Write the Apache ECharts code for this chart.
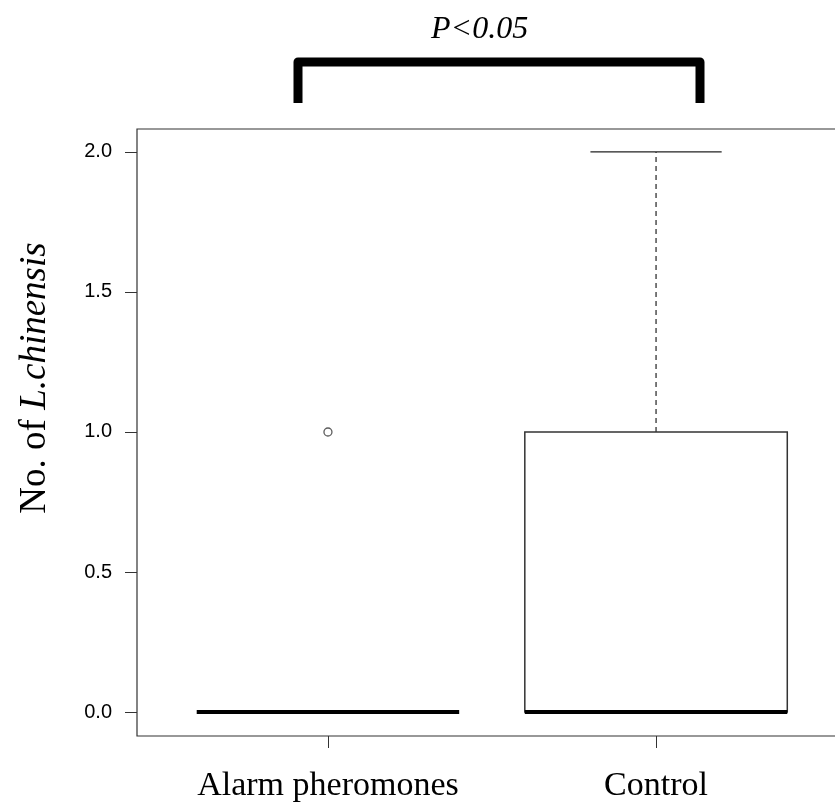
<!DOCTYPE html>
<html>
<head>
<meta charset="utf-8">
<script src="https://cdn.jsdelivr.net/npm/echarts@6/dist/echarts.min.js"></script>
<style>
  html, body { margin: 0; padding: 0; overflow: hidden; background: #fff; }
  #chart { width: 860px; height: 809px; }
</style>
</head>
<body>
<div id="chart"></div>
<script>
// groups, and their box stats: [min, Q1, median, Q3, max]
var groups = ['Alarm pheromones', 'Control'];
var groupPos = [1, 2];
var alarmStats = [0, 0, 0, 0, 0];
var controlStats = [0, 0, 0, 1, 2];
var outliers = [[1, 1]]; // [group position, value]
var yTicks = [0, 0.5, 1, 1.5, 2];

var boxHalf = 0.4;   // R boxwex 0.8
var capHalf = 0.2;   // staplewex 0.5

var chartDom = document.getElementById('chart');
var myChart = echarts.init(chartDom);

var boxData = [
    [groupPos[0]].concat(alarmStats),
    [groupPos[1]].concat(controlStats)
];

function renderBox(params, api) {
    var x = api.value(0);
    var lo = api.coord([x - boxHalf, api.value(1)]);
    var hi = api.coord([x + boxHalf, api.value(5)]);
    var q1 = api.coord([x, api.value(2)]);
    var med = api.coord([x, api.value(3)]);
    var q3 = api.coord([x, api.value(4)]);
    var mid = q1[0];
    var capW = api.size([capHalf, 0])[0];
    var left = lo[0], right = hi[0];
    var kids = [];
    // whiskers (dashed) + caps
    if (api.value(5) > api.value(4)) {
        kids.push({ type: 'line', shape: { x1: mid, y1: q3[1], x2: mid, y2: hi[1] },
            style: { stroke: '#222', lineWidth: 1.2, lineDash: [5, 4] } });
        kids.push({ type: 'line', shape: { x1: mid - capW, y1: hi[1], x2: mid + capW, y2: hi[1] },
            style: { stroke: '#222', lineWidth: 1.2 } });
    }
    if (api.value(4) > api.value(2)) {
        kids.push({ type: 'rect', shape: { x: left, y: q3[1], width: right - left, height: q1[1] - q3[1] },
            style: { fill: '#fff', stroke: '#333', lineWidth: 1.5 } });
    }
    // median
    kids.push({ type: 'line', shape: { x1: left, y1: med[1], x2: right, y2: med[1] },
        style: { stroke: '#000', lineWidth: 4 } });
    return { type: 'group', children: kids };
}

var option = {
    animation: false,
    title: {
        text: 'P<0.05',
        left: 426,
        top: 9,
        textStyle: { fontFamily: 'Liberation Serif', fontStyle: 'italic', fontWeight: 'normal', fontSize: 32, color: '#000' }
    },
    grid: {
        left: 137, top: 129, right: 13, bottom: 73,
        outerBoundsMode: 'none',
        containLabel: false,
        show: true, borderColor: '#333', borderWidth: 1.2, backgroundColor: '#fff'
    },
    xAxis: {
        type: 'value',
        min: 0.418, max: 2.582,
        axisLine: { show: false, onZero: false },
        splitLine: { show: false },
        axisTick: { show: true, customValues: groupPos, length: 12, lineStyle: { color: '#333' } },
        axisLabel: {
            customValues: groupPos,
            margin: 33,
            fontFamily: 'Liberation Serif', fontSize: 34, color: '#000',
            formatter: function (v) { return groups[Math.round(v) - 1]; }
        }
    },
    yAxis: {
        type: 'value',
        min: -0.0857, max: 2.082,
        axisLine: { show: false, onZero: false },
        splitLine: { show: false },
        axisTick: { show: true, customValues: yTicks, length: 12, lineStyle: { color: '#333' } },
        axisLabel: {
            customValues: yTicks,
            margin: 25,
            fontFamily: 'Liberation Sans', fontSize: 20, color: '#000',
            formatter: function (v) { return v.toFixed(1); }
        }
    },
    graphic: [
        {
            type: 'polyline',
            shape: { points: [[298, 103], [298, 62], [700, 62], [700, 103]] },
            style: { fill: null, stroke: '#000', lineWidth: 9, lineJoin: 'round' }
        },
        {
            // y axis title
            type: 'text',
            x: 35,
            y: 378,
            rotation: Math.PI / 2,
            style: {
                text: '{n|No. of }{i|L.chinensis}',
                align: 'center',
                verticalAlign: 'middle',
                rich: {
                    n: { fontFamily: 'Liberation Serif', fontSize: 37, fill: '#000' },
                    i: { fontFamily: 'Liberation Serif', fontStyle: 'italic', fontSize: 37, fill: '#000' }
                }
            }
        }
    ],
    series: [
        {
            type: 'custom',
            renderItem: renderBox,
            encode: { x: 0, y: [1, 2, 3, 4, 5] },
            data: boxData,
            z: 3
        },
        {
            type: 'scatter',
            symbol: 'circle',
            symbolSize: 8,
            itemStyle: { color: '#fff', borderColor: '#333', borderWidth: 1.3 },
            data: outliers,
            z: 5
        }
    ]
};

option && myChart.setOption(option);
</script>
</body>
</html>
